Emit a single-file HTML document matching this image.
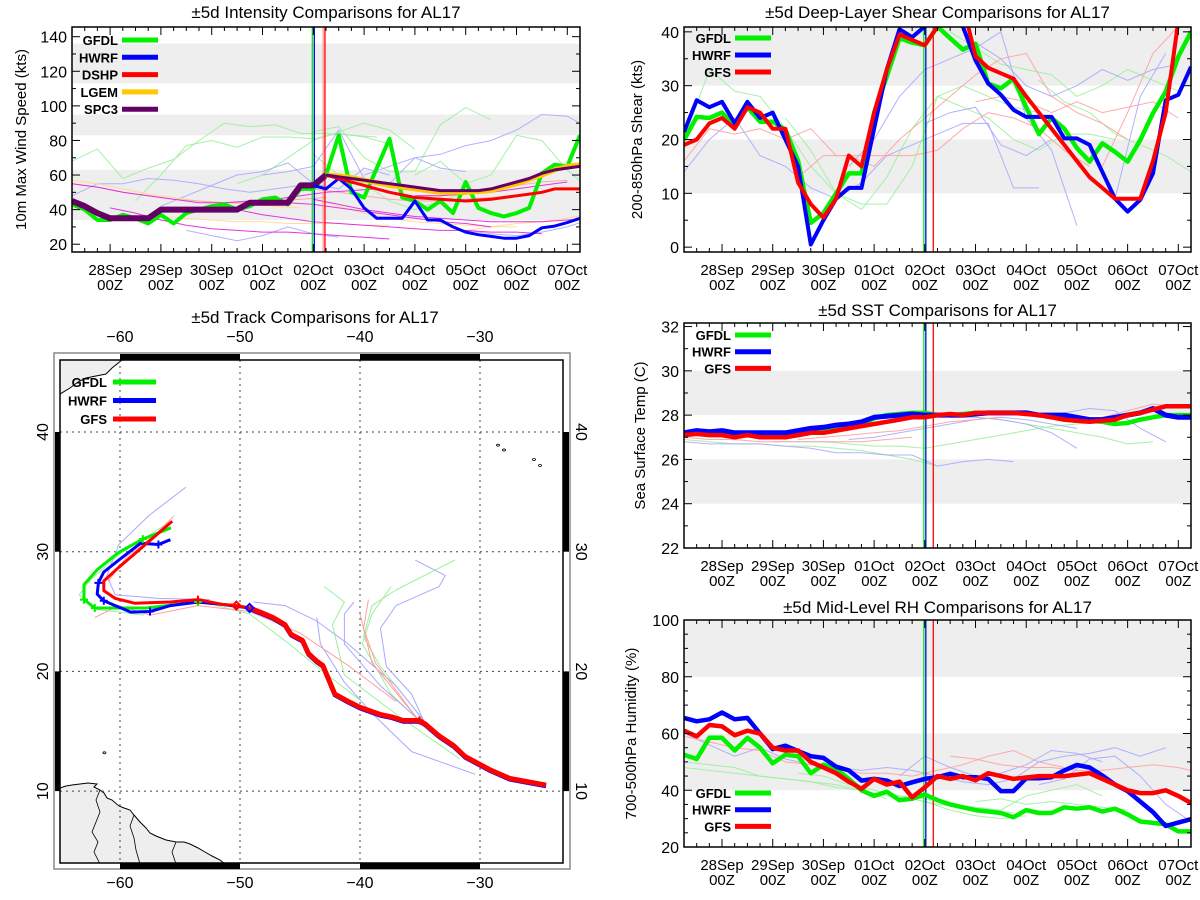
<!DOCTYPE html>
<html><head><meta charset="utf-8"><style>
html,body{margin:0;padding:0;background:#fff;}
svg{display:block;font-family:"Liberation Sans",sans-serif;}
</style></head><body>
<svg id="chart" width="1200" height="900" viewBox="0 0 1200 900" xmlns="http://www.w3.org/2000/svg">
<defs>
<clipPath id="cInt"><rect x="72" y="27" width="508" height="225"/></clipPath>
<clipPath id="cShr"><rect x="684" y="27" width="507" height="225"/></clipPath>
<clipPath id="cSst"><rect x="684" y="323" width="507" height="225"/></clipPath>
<clipPath id="cRh"><rect x="684" y="620" width="507" height="227"/></clipPath>
<clipPath id="cMap"><rect x="60" y="360" width="503" height="503"/></clipPath>
</defs>
</svg>
<script>
// ---------- shared data ----------
const hours = [-18,-12,-6,0,6,12,18,24,30,36,42,48,54,60,66,72,78,84,90,96,102,108,114,120,126,132,138,144,150,156,162,168,174,180,186,192,198,204,210,216,222];
const dayLabels = ["28Sep","29Sep","30Sep","01Oct","02Oct","03Oct","04Oct","05Oct","06Oct","07Oct"];
const dayHours = [0,24,48,72,96,120,144,168,192,216];
const initHourA = 96, initHourB = 101;

// ---------- intensity ----------
const intTicks = [20,40,60,80,100,120,140];
const intBands = [[34,63],[83,95],[113,136]];
const intGFDL = [43,40,34,34,37,35,32,37,32,38,40,42,43,40,42,46,47,43,52,52,60,83,50,47,64,81,47,45,40,45,38,56,41,38,36,38,41,61,66,65,83];
const intHWRF = [null,null,null,null,null,null,null,null,null,null,null,null,null,null,null,null,null,null,null,54,52,58,52,41,35,35,35,45,34,34,30,27,25.5,24.5,23.5,23.5,25,29.5,30.5,32.5,35];
const intDSHP = [null,null,null,null,null,null,null,null,null,null,null,null,null,null,null,null,null,null,null,null,60,58,56,54,52,50,48.5,47,46.5,46,45.5,45,45.5,46,47,48,49,50,52,52,52];
const intLGEM = [null,null,null,null,null,null,null,null,null,null,null,null,null,null,null,null,null,null,null,null,60,59.5,58.5,57,55.5,54,53,52,51,50,50,50,50.5,51,53,55,57.5,60,63,65,66];
const intSPC3 = [45,42,38,35,35,35,35,40,40,40,40,40,40,40,44,44,44,44,54,54,60,59,58,57,56,55,54,53,52,51,51,51,51,52,54,56,58,61,63,64,65];
const intThinGreen = [[-18,[68,75,58,64,69,80,90,88,89,84,84,83,82]],[12,[45,60,77,80,76,82,82,81,84,82,78]],[60,[55,60,70,80,85,90,86,75]],[96,[85,88,70,62,62,89,99,92]],[144,[60,68,55,60,83,80,63,50,57,68,60]],[96,[72,60,55,45,40,45,50]]];
const intThinBlue = [[-18,[48,55,55,58,57,55,52,50,52,54]],[24,[42,48,54,60,62,67,55,52,64,60]],[72,[60,62,65,86,58,55,70,64,62]],[120,[60,65,70,72,77,80,86,95,94,86,85]],[36,[28,25,22,25,30,26,24]],[168,[28,26,25,27,30,35]]];
const intThinRed = [[-18,[55,53,50,48,46,45,44,44,45,46,47]],[96,[52,50,48,46,45,45,46,47,48]],[144,[48,48,50,52,54,56,57]]];
const intThinOrange = [[-18,[57,55,52,49,47,45,44,43,42,41]],[24,[36,35,34,33,33,32,32,32,31,31]],[96,[46,42,38,35,33,32,31,30,30]],[168,[28,30,32,33,35,38,40,45,49]]];
const intThinMagenta = [[-18,[55,53,50,48,46,44,44,45,46,48,50,51,52]],[0,[41,38,34,31,29,28,27,27,26,25,24,23]],[48,[43,40,37,35,33,32,31,30,29,28,28,27,27,26]],[96,[46,43,40,38,36,35,34,33,33,33,34,35]],[144,[48,48,49,50,52,54,56]],[72,[44,44,43,41,39,37,35,33,32,30]]];

// ---------- shear ----------
const shrTicks = [0,10,20,30,40];
const shrBands = [[10,20],[30,41]];
const shrGFDL = [19.9,24.2,24,25,22.4,26,23.3,23.3,21.8,16,4.5,6.3,10,13.7,13.7,24.9,31.7,38.8,38,37.5,41,38.8,36.7,37.8,30.4,29.5,31.3,26,21,24,22,18.4,15.9,19.3,17.7,15.9,19.9,24.9,28.9,35.4,40];
const shrHWRF = [21.4,27.3,26,27,23,27,24,25,20,15,0.5,5,9,11,11,22,33,40.5,39,41,43,42,41,34.7,30.4,28.3,25.5,24.2,24.2,24.2,20.2,20.2,19,14,9,6.6,8.8,13.7,27.3,28.3,33.5];
const shrGFS = [19,20,23,24,22,26,25,22,22,12,8,5.5,9,17,15,25,33,39.5,38.5,37.5,41,45,45,35.5,33.3,32.3,31.3,28,25,22,19,16,13,11,9,9,9,16,25,42,45];
const shrThinGreen = [[-18,[20,33,29,28,22,15,10,8,8,15,28,30,28,26,25]],[30,[24,18,10,7,13,22,28,26,24,20,18,21,21,20]],[108,[40,37,34,33,32,28,30,33,31,29]],[150,[31,27,25,21,19,17,14,18]]];
const shrThinBlue = [[-18,[14,20,24,17,15,11,9,12,17,19,21,23,23,11,11]],[96,[23,25,26,19,17,20]],[60,[15,20,28,33,35,37,40,24,18,4]],[120,[38,35,30,28,30,33,31,33,34]],[174,[18,9,28,36]]];
const shrThinRed = [[-18,[16,22,21,22,20,22,17,17,17,17,18,22,25,24,22,18,15]],[36,[13,17,17,15,20,24,28,32,35,36,28,25,23,20]],[120,[27,28,27,25,27,25,26,27,24]],[180,[15,25,36,41]]];

// ---------- SST ----------
const sstTicks = [22,24,26,28,30,32];
const sstBands = [[24,26],[28,30]];
const sstGFDL = [27.1,27.2,27.15,27.15,27.1,27.1,27.1,27.1,27.05,27.1,27.2,27.3,27.35,27.45,27.6,27.85,28.0,28.05,28.1,28.1,28.0,28.0,28.05,28.1,28.1,28.1,28.1,28.1,28.0,27.9,27.8,27.75,27.75,27.7,27.6,27.65,27.8,27.9,28.0,28.0,28.0];
const sstHWRF = [27.2,27.3,27.25,27.3,27.2,27.2,27.2,27.2,27.2,27.3,27.4,27.45,27.55,27.6,27.7,27.9,27.95,28.0,28.05,28.0,28.0,28.0,28.0,28.05,28.1,28.1,28.1,28.1,28.0,28.0,28.0,27.9,27.8,27.8,27.9,28.0,28.1,28.3,28.0,27.9,27.9];
const sstGFS = [27.1,27.15,27.1,27.1,27.0,27.1,27.0,27.0,27.0,27.1,27.2,27.2,27.3,27.4,27.5,27.6,27.7,27.8,27.9,27.9,28.0,28.05,28.0,28.1,28.1,28.1,28.1,28.05,28.0,27.9,27.8,27.75,27.7,27.75,27.8,28.0,28.1,28.25,28.4,28.4,28.4];
const sstThinGreen = [[-18,[26.9,26.8,26.7,26.7,26.6,26.6,26.5,26.4,26.2,26.0,25.7]],[24,[26.8,26.8,26.8,26.7,26.6,26.6,26.5,26.7,26.9,27.1,27.3,27.5,27.6,27.7]],[120,[27.9,27.8,27.6,27.4,27.2,27.0,26.7,26.8]]];
const sstThinBlue = [[-18,[26.8,26.7,26.7,26.7,26.6,26.5,26.3,26.3,26.2,26.2,25.7,25.9,26.0,25.9]],[60,[26.9,27.0,27.2,27.4,27.6,27.8,27.9,27.8,27.6,27.4]],[108,[27.9,27.9,27.8,27.6,27.2,26.5]],[150,[28.0,28.1,28.3,28.2,27.4,26.8]]];
const sstThinRed = [[-18,[27.0,26.9,26.9,26.8,26.8,26.8,26.8,26.8,26.9,27.0]],[36,[26.9,27.0,27.1,27.2,27.3,27.5,27.7,27.8,27.9]],[144,[28.0,27.9,27.8,27.9,28.2,28.5,28.4]]];

// ---------- RH ----------
const rhTicks = [20,40,60,80,100];
const rhBands = [[40,60],[80,100]];
const rhGFDL = [52.5,51,58.5,58.5,54,58.5,55,49.5,52.5,52,46,49,47.5,44,40,38,39.5,36.5,37,38.5,36.5,35,34,33,32.5,32,30.5,33,32,32,34,33.5,34,32.5,33.5,31.5,29,28.5,28,25.5,25.5];
const rhHWRF = [65.5,64.3,65,67.4,65,65.5,60,54.5,55.7,53.8,52,51.4,48.3,47,43.4,44,43.4,41.5,42.8,44,44.6,45.8,44.6,44.6,44,39.7,39.7,44.2,44.2,44.6,47,48.9,48,45.2,42,39.7,36,32.3,27.4,28.6,29.8];
const rhGFS = [61,59,63,62.5,59.4,61,60,55,54,54,50,48,46,43,40.5,44,42,43,37.5,41,45,44,45,43.5,46,45,44,44.5,45,45,45,45.5,46,44,42,40,39,39,40,38,35.5];
const rhThinGreen = [[-18,[48,47,46,45,44,43,42,40,37]],[-18,[50,49,48,45,44,43,41,40,38,37,35,34,33,32]],[36,[46,45,42,40,38,36,33,31,30,31]],[72,[40,38,37,35,34,33,38,40,42,38]],[120,[36,37,35,36,35,34,33]]];
const rhThinBlue = [[-18,[60,56,52,55,51,49,48,47,48,47,45,43,42,44,50,52,53,55,52,55]],[84,[45,52,48,45,46,49,54,53,50]],[150,[42,44,51,52,45,35,29,28]]];
const rhThinRed = [[-18,[59,57,55,54,50,49,48,46,46,45,47,49,52,54,50,48]],[108,[52,51,49,48,48,47,47,48,49,48,46,44,40,38,38]]];

// ---------- track ----------
const lonTicks = [-60,-50,-40,-30];
const latTicks = [10,20,30,40];
const trkHistLon = [-24.5,-27.5,-29.1,-31.25,-32.2,-33.4,-34.55,-35.05,-36.4,-37.35,-38.3,-40.0,-41.0,-42.1,-43.1,-43.6,-44.3,-44.8,-45.75,-46.25,-47.25,-48.2,-49.2];
const trkHistLat = [10.5,11.05,11.75,12.9,13.8,14.6,15.6,15.9,15.9,16.2,16.4,17.0,17.5,18.1,20.5,20.85,21.5,22.6,23.1,23.9,24.5,24.9,25.3];
const trkGFSLon = [-49.2,-50.3,-51.5,-53.5,-55.8,-58.8,-60.4,-61.35,-61.35,-60.1,-59.1,-55.65];
const trkGFSLat = [25.3,25.5,25.6,26.0,25.8,25.7,26.1,26.75,27.55,28.7,29.55,32.55];
const trkGFDLLon = [-49.2,-50.3,-51.5,-53.5,-56.1,-57.8,-60.1,-62.1,-63.0,-63.0,-61.9,-60.1,-58.1,-55.75];
const trkGFDLLat = [25.3,25.5,25.6,25.8,25.5,25.3,25.3,25.3,26.0,27.25,28.5,29.95,31.05,32.0];
const trkHWRFLon = [-49.2,-51.5,-53.5,-55.8,-57.5,-59.1,-60.4,-61.35,-61.9,-61.8,-61.35,-60.1,-58.3,-56.8,-55.8];
const trkHWRFLat = [25.3,25.6,25.8,25.5,25.0,24.95,25.5,25.9,26.45,27.4,28.3,29.3,30.7,30.6,31.0];
const trkThinBlue = [[[-35.4,29.3],[-32.9,28.0],[-33.4,27.1],[-37,25.5],[-38.3,23.6],[-37.8,20.4],[-35.7,18.1],[-34.7,15.9]],[[-43.6,24.5],[-43.3,22.3],[-41.3,19.1],[-39,16.5],[-35.7,13.3],[-30.4,11.4]],[[-40.5,25.8],[-41.3,24.8],[-41.3,22.3],[-38.3,18.8],[-34.7,15.6]],[[-48.9,25.8],[-46.25,25.5],[-43.6,24.2],[-41,22.3],[-37,18.8],[-34.7,15.9]],[[-54.5,35.4],[-57.5,33.1],[-60.1,30.6],[-61.1,28],[-60.4,26.4],[-56.8,26.1],[-52.5,26]]];
const trkThinGreen = [[[-32.1,29.3],[-37,26.8],[-39,25.5],[-39.7,22.9],[-38.3,20.4],[-34.7,15.9]],[[-37.4,27.1],[-39,24.8],[-39.8,22.3],[-37.4,18.1],[-35.1,15.9]],[[-43,27.1],[-41.3,25.8],[-42.3,23.9],[-41.3,19.7],[-36.7,16.2],[-31.7,12.7]],[[-53.5,25.9],[-49.2,24.8],[-45.9,22.3],[-43.6,20.4],[-40,17.6]],[[-58,24.7],[-62.1,25.2],[-63.4,26.4],[-62.4,27.7],[-60,29.8],[-56,32.4]]];
const trkThinRed = [[[-39.3,26],[-39.7,23.6],[-38.7,20.7],[-35.1,15.9]],[[-40,24.8],[-39,20.7],[-35.1,15.9]],[[-62.1,24.5],[-60.1,25.5],[-57.5,24.7],[-53.5,25.5],[-49.2,25.0],[-45,23.2],[-41,20.5],[-37,17.5]],[[-61,27.5],[-59.5,29.5],[-57,31.5],[-55.5,33]]];

// ---------- helpers ----------
const NS = "http://www.w3.org/2000/svg";
const svg = document.getElementById('chart');
function mk(tag, attrs, parent){ const e=document.createElementNS(NS,tag); for(const k in attrs) e.setAttribute(k,attrs[k]); (parent||svg).appendChild(e); return e; }
function txt(s, attrs, parent){ const e=mk('text',attrs,parent); e.textContent=s; return e; }
function grp(name, parent){ const g=mk('g',{},parent);
  
  
  return g; }

const C = {green:'#00f000', blue:'#0000ff', red:'#ff0000', gold:'#ffc800', purple:'#660066',
  lgreen:'#9cf09c', lblue:'#a8a8ff', lred:'#ffa0a0', lorange:'#ffd890', magenta:'#e020e0'};

function timePanel(cfg){
  const g = grp(cfg.name);
  const {x0,x1,y0,y1,vmin,vmax} = cfg;
  const X = h => x0 + (h+18)/240*(x1-x0);
  const Y = v => y1 - (v-vmin)/(vmax-vmin)*(y1-y0);
  const inner = mk('g',{'clip-path':`url(#${cfg.clip})`},g);
  cfg.bands.forEach(b=>{ const r=mk('rect',{x:x0,y:Y(b[1]),width:x1-x0,height:Y(b[0])-Y(b[1]),fill:'#eeeeee'},inner);
    
     });
  function thin(list,color,op){ list.forEach(item=>{ const st=item[0], vals=item[1];
      const pts=vals.map((v,i)=>X(st+i*12).toFixed(1)+','+Y(v).toFixed(1)).join(' ');
      const p=mk('polyline',{points:pts,fill:'none',stroke:color,'stroke-width':1,opacity:op},inner);
      
       }); }
  cfg.thin.forEach(t=>thin(t[0],t[1],t[2]));
  // init lines
  [[initHourA,C.green,-1],[initHourA,C.blue,1],[cfg.initB,C.red,0]].forEach(v=>{
    const l=mk('line',{x1:X(v[0])+v[2],x2:X(v[0])+v[2],y1:y0,y2:y1,stroke:v[1],'stroke-width':1.3},inner);
    
     });
  if(cfg.pinkPair){ const l=mk('line',{x1:X(cfg.initB)-1.8,x2:X(cfg.initB)-1.8,y1:y0,y2:y1,stroke:'#ff9090','stroke-width':1.2},inner);
    
     }
  cfg.series.forEach(s=>{
    let seg=[]; const segs=[];
    s.vals.forEach((v,i)=>{ if(v===null){ if(seg.length) segs.push(seg); seg=[]; } else seg.push(X(hours[i]).toFixed(1)+','+Y(v).toFixed(1)); });
    if(seg.length) segs.push(seg);
    segs.forEach(sg=>{ const p=mk('polyline',{points:sg.join(' '),fill:'none',stroke:s.color,'stroke-width':s.w,'stroke-linejoin':'round'},inner);
      
       });
  });
  // frame
  const fr=mk('rect',{x:x0,y:y0,width:x1-x0,height:y1-y0,fill:'none',stroke:'#000','stroke-width':1.5},g);
  
  
  // x ticks
  for(let h=-18; h<=222; h+=6){ const maj = ((h%24)+24)%24===0; const L = maj?8:4; const x=X(h);
    mk('line',{x1:x,x2:x,y1:y1,y2:y1-L,stroke:'#000','stroke-width':1},g);
    mk('line',{x1:x,x2:x,y1:y0,y2:y0+L,stroke:'#000','stroke-width':1},g); }
  dayHours.forEach((h,i)=>{ const t=txt(dayLabels[i],{x:X(h),y:y1+23,'font-size':15,'text-anchor':'middle'},g);
    
    
    const t2=txt('00Z',{x:X(h),y:y1+38,'font-size':15,'text-anchor':'middle'},g);
    
     });
  // y ticks
  for(let v=cfg.tickMin; v<=vmax; v+=cfg.minor){ const maj = cfg.ticks.some(t=>Math.abs(t-v)<1e-6); const L=maj?8:4; const y=Y(v);
    if(y<y0-0.5) continue;
    mk('line',{x1:x0,x2:x0+L,y1:y,y2:y,stroke:'#000','stroke-width':1},g);
    mk('line',{x1:x1,x2:x1-L,y1:y,y2:y,stroke:'#000','stroke-width':1},g); }
  cfg.ticks.forEach(v=>{ const t=txt(String(v),{x:x0-5,y:Y(v)+6,'font-size':16,'text-anchor':'end'},g);
    
     });
  const yt=txt(cfg.ytitle,{x:0,y:0,'font-size':15,'text-anchor':'middle',transform:`translate(${cfg.ytx},${(y0+y1)/2}) rotate(-90)`},g);
  
  
  const tt=txt(cfg.title,{x:(x0+x1)/2,y:cfg.titleY,'font-size':17,'text-anchor':'middle'},g);
  
  
  // legend
  cfg.legend.forEach((l,i)=>{ const ly=cfg.legY+i*cfg.legDy;
    const lg=grp('legend-entry',g);
    txt(l[0],{x:cfg.legX,y:ly+5,'font-size':13,'text-anchor':'end','font-weight':'bold'},lg);
    mk('line',{x1:cfg.legX+4,x2:cfg.legX+40,y1:ly,y2:ly,stroke:l[1],'stroke-width':5},lg); });
}

timePanel({name:'intensity-panel',x0:72,x1:580,y0:27,y1:252,vmin:15.5,vmax:145.6,clip:'cInt',bands:intBands,ticks:intTicks,tickMin:20,minor:10,initB:101.5,
  ytitle:'10m Max Wind Speed (kts)',ytx:26,title:'±5d Intensity Comparisons for AL17',titleY:18,pinkPair:true,
  thin:[[intThinGreen,C.lgreen,0.9],[intThinBlue,C.lblue,0.9],[intThinOrange,C.lorange,0.9],[intThinRed,C.lred,0.9],[intThinMagenta,C.magenta,0.9]],
  series:[{name:'gfdl',vals:intGFDL,color:C.green,w:4},{name:'spc3-history',vals:intSPC3.map((v,i)=>hours[i]<=102?v:null),color:C.purple,w:6},
    {name:'hwrf',vals:intHWRF,color:C.blue,w:3},{name:'lgem',vals:intLGEM,color:C.gold,w:5},{name:'dshp',vals:intDSHP,color:C.red,w:3},
    {name:'spc3',vals:intSPC3.map((v,i)=>hours[i]>=102?v:null),color:C.purple,w:3}],
  legend:[['GFDL',C.green],['HWRF',C.blue],['DSHP',C.red],['LGEM',C.gold],['SPC3',C.purple]],legX:118,legY:40,legDy:17.3});

timePanel({name:'shear-panel',x0:684,x1:1191,y0:27,y1:252,vmin:-0.9,vmax:40.9,clip:'cShr',bands:shrBands,ticks:shrTicks,tickMin:0,minor:5,initB:100,
  ytitle:'200-850hPa Shear (kts)',ytx:642,title:'±5d Deep-Layer Shear Comparisons for AL17',titleY:18,
  thin:[[shrThinGreen,C.lgreen,0.9],[shrThinBlue,C.lblue,0.9],[shrThinRed,C.lred,0.9]],
  series:[{name:'gfdl',vals:shrGFDL,color:C.green,w:4.5},{name:'hwrf',vals:shrHWRF,color:C.blue,w:4},{name:'gfs',vals:shrGFS,color:C.red,w:4}],
  legend:[['GFDL',C.green],['HWRF',C.blue],['GFS',C.red]],legX:731,legY:38,legDy:17});

timePanel({name:'sst-panel',x0:684,x1:1191,y0:323,y1:548,vmin:22,vmax:32.16,clip:'cSst',bands:sstBands,ticks:sstTicks,tickMin:22,minor:1,initB:100,
  ytitle:'Sea Surface Temp (C)',ytx:645,title:'±5d SST Comparisons for AL17',titleY:316,
  thin:[[sstThinGreen,C.lgreen,0.9],[sstThinBlue,C.lblue,0.9],[sstThinRed,C.lred,0.9]],
  series:[{name:'gfdl',vals:sstGFDL,color:C.green,w:4.5},{name:'hwrf',vals:sstHWRF,color:C.blue,w:5},{name:'gfs',vals:sstGFS,color:C.red,w:4.5}],
  legend:[['GFDL',C.green],['HWRF',C.blue],['GFS',C.red]],legX:731,legY:335,legDy:16.7});

timePanel({name:'rh-panel',x0:684,x1:1191,y0:620,y1:847,vmin:20,vmax:100,clip:'cRh',bands:rhBands,ticks:rhTicks,tickMin:20,minor:5,initB:100,
  ytitle:'700-500hPa Humidity (%)',ytx:636,title:'±5d Mid-Level RH Comparisons for AL17',titleY:613,
  thin:[[rhThinGreen,C.lgreen,0.9],[rhThinBlue,C.lblue,0.9],[rhThinRed,C.lred,0.9]],
  series:[{name:'gfdl',vals:rhGFDL,color:C.green,w:4.5},{name:'hwrf',vals:rhHWRF,color:C.blue,w:4.5},{name:'gfs',vals:rhGFS,color:C.red,w:4.5}],
  legend:[['GFDL',C.green],['HWRF',C.blue],['GFS',C.red]],legX:731,legY:793,legDy:16.7});

// ---------- track map ----------
(function(){
  const g = grp('track-map-panel');
  const LX = lon => 120 + (lon+60)*12;
  const LY = lat => 432 - (lat-40)*11.97;
  mk('rect',{x:54,y:353,width:516,height:516,fill:'#fff',stroke:'#888','stroke-width':1.5},g);
  lonTicks.forEach((lo,i)=>{ if(i%2===0){ const a=LX(lo), b=LX(lo+10);
      mk('rect',{x:a,y:354,width:b-a,height:6,fill:'#000'},g); mk('rect',{x:a,y:863,width:b-a,height:6,fill:'#000'},g);} });
  latTicks.forEach((la,i)=>{ if(i%2===1){ const a=LY(la), b=LY(la-10);
      mk('rect',{x:55,y:a,width:5,height:b-a,fill:'#000'},g); mk('rect',{x:563,y:a,width:6,height:b-a,fill:'#000'},g);} });
  const inner = mk('g',{'clip-path':'url(#cMap)'},g);
  const land1 = mk('polygon',{points:'60,788 66,786 72,785 80,784 88,783 97,784 94,787 100,790 104,793 107,798 112,800 119,806 124,808 130,810 134,815 140,822 146,828 150,833 156,836 166,840 176,842 184,842 190,844 198,848 205,852 212,856 220,860 225,864 60,864',fill:'#eeeeee',stroke:'#000','stroke-width':1},inner);
  
  
  // interior borders
  mk('polyline',{points:'100,790 96,800 100,812 96,822 92,832 98,842 94,852 100,864',fill:'none',stroke:'#000','stroke-width':0.8},inner);
  mk('polyline',{points:'134,815 130,826 134,838 136,850 140,864',fill:'none',stroke:'#000','stroke-width':0.8},inner);
  mk('polyline',{points:'176,842 172,852 176,864',fill:'none',stroke:'#000','stroke-width':0.8},inner);
  const land2 = mk('polygon',{points:'60,360 122,360 112,368 106,374 96,376 86,378 78,382 70,388 60,394',fill:'#eeeeee',stroke:'#000','stroke-width':1},inner);
  
  
  lonTicks.forEach(lo=>{ const l=mk('line',{x1:LX(lo),x2:LX(lo),y1:360,y2:863,stroke:'#444','stroke-width':1,'stroke-dasharray':'2,4'},inner);
    
     });
  latTicks.forEach(la=>{ const l=mk('line',{x1:60,x2:563,y1:LY(la),y2:LY(la),stroke:'#444','stroke-width':1,'stroke-dasharray':'2,4'},inner);
    
     });
  [[-28.5,38.9],[-28,38.5],[-25.5,37.7],[-25,37.2]].forEach(p=>mk('ellipse',{cx:LX(p[0]),cy:LY(p[1]),rx:1.5,ry:1,fill:'none',stroke:'#000','stroke-width':0.8},inner));
  mk('ellipse',{cx:LX(-61.3),cy:LY(13.2),rx:1.5,ry:1,fill:'none',stroke:'#000','stroke-width':0.8},inner);
  function pl(pts,color,w,name){ const p=mk('polyline',{points:pts.map(q=>LX(q[0]).toFixed(1)+','+LY(q[1]).toFixed(1)).join(' '),fill:'none',stroke:color,'stroke-width':w,'stroke-linejoin':'round'},inner);
    
     }
  trkThinGreen.forEach(t=>pl(t,C.lgreen,1,'past-track-line'));
  trkThinBlue.forEach(t=>pl(t,C.lblue,1,'past-track-line'));
  trkThinRed.forEach(t=>pl(t,C.lred,1,'past-track-line'));
  const hist = trkHistLon.map((v,i)=>[v,trkHistLat[i]]);
  pl(hist,C.green,4,'gfdl-track-history');
  pl(hist.map(p=>[p[0],p[1]-0.1]),C.blue,4,'hwrf-track-history');
  pl(hist,C.red,5,'gfs-track-history');
  pl(trkGFDLLon.map((v,i)=>[v,trkGFDLLat[i]]),C.green,3,'gfdl-track');
  pl(trkHWRFLon.map((v,i)=>[v,trkHWRFLat[i]]),C.blue,3,'hwrf-track');
  pl(trkGFSLon.map((v,i)=>[v,trkGFSLat[i]]),C.red,3,'gfs-track');
  function plus(lon,lat,color){ const x=LX(lon), y=LY(lat);
    mk('path',{d:`M${x-4},${y}H${x+4}M${x},${y-4}V${y+4}`,stroke:color,'stroke-width':2},inner); }
  [[-63,26.0],[-62.1,25.3],[-58.1,31.05],[-53.5,25.8]].forEach(p=>plus(p[0],p[1],C.green));
  [[-61.35,25.9],[-61.8,27.4],[-56.8,30.6],[-57.5,25.0]].forEach(p=>plus(p[0],p[1],C.blue));
  [[-53.5,26.0],[-35.05,15.9]].forEach(p=>plus(p[0],p[1],C.red));
  [[trkHistLon[trkHistLon.length-1],trkHistLat[trkHistLat.length-1],C.blue],[trkGFSLon[1],trkGFSLat[1],C.red]].forEach(d=>{
    const x=LX(d[0]), y=LY(d[1]);
    mk('polygon',{points:`${x},${y-4} ${x+4},${y} ${x},${y+4} ${x-4},${y}`,fill:'none',stroke:d[2],'stroke-width':2},inner); });
  mk('rect',{x:60,y:360,width:503,height:503,fill:'none',stroke:'#000','stroke-width':1.5},g);
  lonTicks.forEach(lo=>{ [342,888].forEach(yy=>{ const t=txt('−'+Math.abs(lo),{x:LX(lo),y:yy,'font-size':16,'text-anchor':'middle'},g);
    
     }); });
  latTicks.forEach(la=>{
    const t=txt(String(la),{x:0,y:0,'font-size':16,'text-anchor':'middle',transform:`translate(48,${LY(la)}) rotate(-90)`},g);
    
    
    const t2=txt(String(la),{x:0,y:0,'font-size':16,'text-anchor':'middle',transform:`translate(576,${LY(la)}) rotate(90)`},g);
    
     });
  const tt=txt('±5d Track Comparisons for AL17',{x:315,y:323,'font-size':17,'text-anchor':'middle'},g);
  
  
  [['GFDL',C.green],['HWRF',C.blue],['GFS',C.red]].forEach((l,i)=>{ const ly=382+i*18.5;
    const lg=grp('legend-entry',g);
    txt(l[0],{x:107,y:ly+5,'font-size':13,'text-anchor':'end','font-weight':'bold'},lg);
    mk('line',{x1:113,x2:156,y1:ly,y2:ly,stroke:l[1],'stroke-width':5},lg); });
})();
</script>
</body></html>
